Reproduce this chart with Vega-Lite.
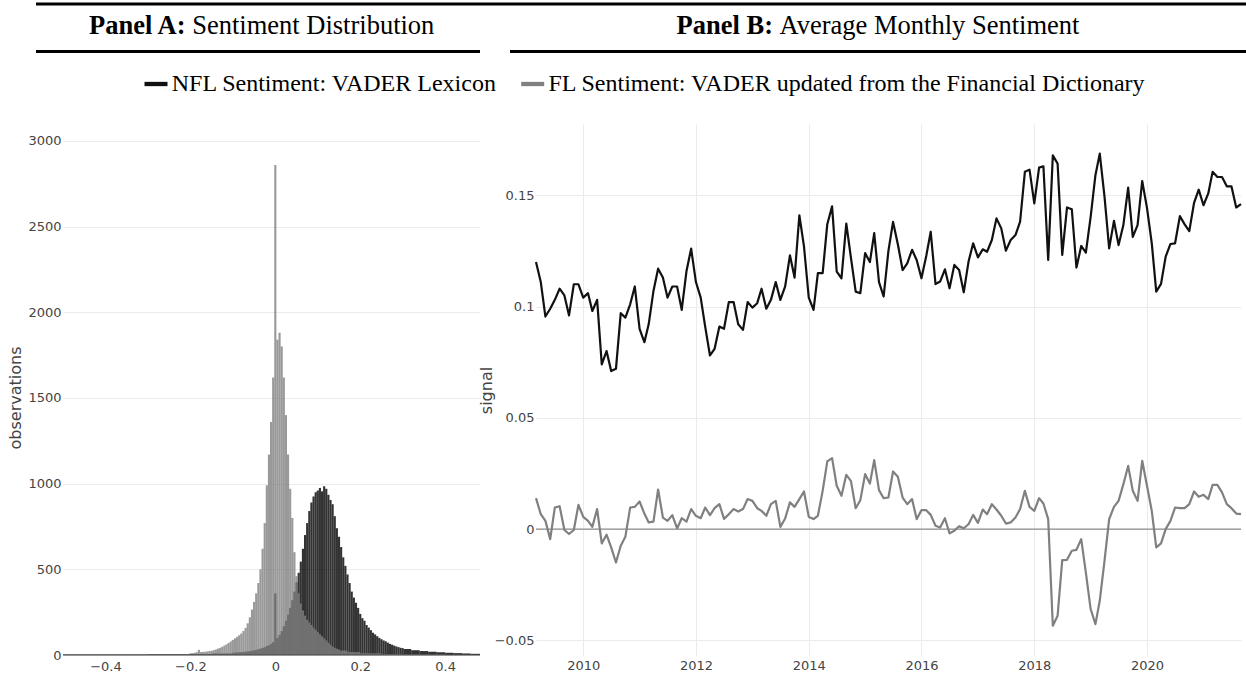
{
"$schema": "https://vega.github.io/schema/vega-lite/v6.json",
"background": "white",
"padding": {"left": 7, "top": 2, "right": 0, "bottom": 0},
"config": {
  "view": {"stroke": null},
  "axis": {"domain": false, "ticks": false, "labelFont": "DejaVu Sans", "labelFontSize": 13, "labelColor": "#444", "titleFont": "DejaVu Sans", "titleFontSize": 16, "titleFontWeight": "normal", "titleColor": "#444", "gridColor": "#ebebeb", "gridWidth": 1}
},
"datasets": {
"hist": [
{"series":"NFL","lo":-0.5,"hi":-0.3,"count":3},
{"series":"NFL","lo":-0.3,"hi":-0.2,"count":4},
{"series":"NFL","lo":-0.2,"hi":-0.15,"count":6},
{"series":"NFL","lo":-0.15,"hi":-0.1025,"count":9},
{"series":"NFL","lo":-0.1025,"hi":-0.0975,"count":13},
{"series":"NFL","lo":-0.0975,"hi":-0.0925,"count":14},
{"series":"NFL","lo":-0.0925,"hi":-0.0875,"count":15},
{"series":"NFL","lo":-0.0875,"hi":-0.0825,"count":16},
{"series":"NFL","lo":-0.0825,"hi":-0.0775,"count":17},
{"series":"NFL","lo":-0.0775,"hi":-0.0725,"count":18},
{"series":"NFL","lo":-0.0725,"hi":-0.0675,"count":20},
{"series":"NFL","lo":-0.0675,"hi":-0.0625,"count":21},
{"series":"NFL","lo":-0.0625,"hi":-0.0575,"count":23},
{"series":"NFL","lo":-0.0575,"hi":-0.0525,"count":25},
{"series":"NFL","lo":-0.0525,"hi":-0.0475,"count":27},
{"series":"NFL","lo":-0.0475,"hi":-0.0425,"count":30},
{"series":"NFL","lo":-0.0425,"hi":-0.0375,"count":33},
{"series":"NFL","lo":-0.0375,"hi":-0.0325,"count":37},
{"series":"NFL","lo":-0.0325,"hi":-0.0275,"count":41},
{"series":"NFL","lo":-0.0275,"hi":-0.0225,"count":46},
{"series":"NFL","lo":-0.0225,"hi":-0.0175,"count":52},
{"series":"NFL","lo":-0.0175,"hi":-0.0125,"count":58},
{"series":"NFL","lo":-0.0125,"hi":-0.0075,"count":65},
{"series":"NFL","lo":-0.0075,"hi":-0.0025,"count":75},
{"series":"NFL","lo":-0.0025,"hi":0.0025,"count":360},
{"series":"NFL","lo":0.0025,"hi":0.0075,"count":100},
{"series":"NFL","lo":0.0075,"hi":0.0125,"count":118},
{"series":"NFL","lo":0.0125,"hi":0.0175,"count":140},
{"series":"NFL","lo":0.0175,"hi":0.0225,"count":168},
{"series":"NFL","lo":0.0225,"hi":0.0275,"count":200},
{"series":"NFL","lo":0.0275,"hi":0.0325,"count":235},
{"series":"NFL","lo":0.0325,"hi":0.0375,"count":275},
{"series":"NFL","lo":0.0375,"hi":0.0425,"count":320},
{"series":"NFL","lo":0.0425,"hi":0.0475,"count":370},
{"series":"NFL","lo":0.0475,"hi":0.0525,"count":425},
{"series":"NFL","lo":0.0525,"hi":0.0575,"count":480},
{"series":"NFL","lo":0.0575,"hi":0.0625,"count":545},
{"series":"NFL","lo":0.0625,"hi":0.0675,"count":620},
{"series":"NFL","lo":0.0675,"hi":0.0725,"count":700},
{"series":"NFL","lo":0.0725,"hi":0.0775,"count":770},
{"series":"NFL","lo":0.0775,"hi":0.0825,"count":840},
{"series":"NFL","lo":0.0825,"hi":0.0875,"count":890},
{"series":"NFL","lo":0.0875,"hi":0.0925,"count":925},
{"series":"NFL","lo":0.0925,"hi":0.0975,"count":950},
{"series":"NFL","lo":0.0975,"hi":0.1025,"count":960},
{"series":"NFL","lo":0.1025,"hi":0.1075,"count":975},
{"series":"NFL","lo":0.1075,"hi":0.1125,"count":955},
{"series":"NFL","lo":0.1125,"hi":0.1175,"count":985},
{"series":"NFL","lo":0.1175,"hi":0.1225,"count":970},
{"series":"NFL","lo":0.1225,"hi":0.1275,"count":935},
{"series":"NFL","lo":0.1275,"hi":0.1325,"count":905},
{"series":"NFL","lo":0.1325,"hi":0.1375,"count":880},
{"series":"NFL","lo":0.1375,"hi":0.1425,"count":810},
{"series":"NFL","lo":0.1425,"hi":0.1475,"count":740},
{"series":"NFL","lo":0.1475,"hi":0.1525,"count":690},
{"series":"NFL","lo":0.1525,"hi":0.1575,"count":630},
{"series":"NFL","lo":0.1575,"hi":0.1625,"count":570},
{"series":"NFL","lo":0.1625,"hi":0.1675,"count":520},
{"series":"NFL","lo":0.1675,"hi":0.1725,"count":470},
{"series":"NFL","lo":0.1725,"hi":0.1775,"count":420},
{"series":"NFL","lo":0.1775,"hi":0.1825,"count":370},
{"series":"NFL","lo":0.1825,"hi":0.1875,"count":335},
{"series":"NFL","lo":0.1875,"hi":0.1925,"count":305},
{"series":"NFL","lo":0.1925,"hi":0.1975,"count":275},
{"series":"NFL","lo":0.1975,"hi":0.2025,"count":240},
{"series":"NFL","lo":0.2025,"hi":0.2075,"count":215},
{"series":"NFL","lo":0.2075,"hi":0.2125,"count":200},
{"series":"NFL","lo":0.2125,"hi":0.2175,"count":175},
{"series":"NFL","lo":0.2175,"hi":0.2225,"count":160},
{"series":"NFL","lo":0.2225,"hi":0.2275,"count":145},
{"series":"NFL","lo":0.2275,"hi":0.2325,"count":130},
{"series":"NFL","lo":0.2325,"hi":0.2375,"count":120},
{"series":"NFL","lo":0.2375,"hi":0.2425,"count":110},
{"series":"NFL","lo":0.2425,"hi":0.2475,"count":100},
{"series":"NFL","lo":0.2475,"hi":0.2525,"count":92},
{"series":"NFL","lo":0.2525,"hi":0.2575,"count":85},
{"series":"NFL","lo":0.2575,"hi":0.2625,"count":80},
{"series":"NFL","lo":0.2625,"hi":0.2675,"count":72},
{"series":"NFL","lo":0.2675,"hi":0.2725,"count":65},
{"series":"NFL","lo":0.2725,"hi":0.2775,"count":60},
{"series":"NFL","lo":0.2775,"hi":0.2825,"count":55},
{"series":"NFL","lo":0.2825,"hi":0.2875,"count":50},
{"series":"NFL","lo":0.2875,"hi":0.2925,"count":46},
{"series":"NFL","lo":0.2925,"hi":0.2975,"count":42},
{"series":"NFL","lo":0.2975,"hi":0.3025,"count":40},
{"series":"NFL","lo":0.3025,"hi":0.32,"count":35},
{"series":"NFL","lo":0.32,"hi":0.34,"count":28},
{"series":"NFL","lo":0.34,"hi":0.36,"count":23},
{"series":"NFL","lo":0.36,"hi":0.38,"count":19},
{"series":"NFL","lo":0.38,"hi":0.4,"count":16},
{"series":"NFL","lo":0.4,"hi":0.42,"count":13},
{"series":"NFL","lo":0.42,"hi":0.44,"count":11},
{"series":"NFL","lo":0.44,"hi":0.46,"count":9},
{"series":"NFL","lo":0.46,"hi":0.49,"count":7},
{"series":"FL","lo":-0.5,"hi":-0.3,"count":2},
{"series":"FL","lo":-0.3,"hi":-0.2025,"count":4},
{"series":"FL","lo":-0.2025,"hi":-0.1975,"count":10},
{"series":"FL","lo":-0.1975,"hi":-0.1925,"count":11},
{"series":"FL","lo":-0.1925,"hi":-0.1875,"count":13},
{"series":"FL","lo":-0.1875,"hi":-0.1825,"count":16},
{"series":"FL","lo":-0.1825,"hi":-0.1775,"count":30},
{"series":"FL","lo":-0.1775,"hi":-0.1725,"count":17},
{"series":"FL","lo":-0.1725,"hi":-0.1675,"count":18},
{"series":"FL","lo":-0.1675,"hi":-0.1625,"count":19},
{"series":"FL","lo":-0.1625,"hi":-0.1575,"count":21},
{"series":"FL","lo":-0.1575,"hi":-0.1525,"count":23},
{"series":"FL","lo":-0.1525,"hi":-0.1475,"count":25},
{"series":"FL","lo":-0.1475,"hi":-0.1425,"count":28},
{"series":"FL","lo":-0.1425,"hi":-0.1375,"count":32},
{"series":"FL","lo":-0.1375,"hi":-0.1325,"count":37},
{"series":"FL","lo":-0.1325,"hi":-0.1275,"count":42},
{"series":"FL","lo":-0.1275,"hi":-0.1225,"count":48},
{"series":"FL","lo":-0.1225,"hi":-0.1175,"count":55},
{"series":"FL","lo":-0.1175,"hi":-0.1125,"count":62},
{"series":"FL","lo":-0.1125,"hi":-0.1075,"count":70},
{"series":"FL","lo":-0.1075,"hi":-0.1025,"count":79},
{"series":"FL","lo":-0.1025,"hi":-0.0975,"count":88},
{"series":"FL","lo":-0.0975,"hi":-0.0925,"count":97},
{"series":"FL","lo":-0.0925,"hi":-0.0875,"count":106},
{"series":"FL","lo":-0.0875,"hi":-0.0825,"count":115},
{"series":"FL","lo":-0.0825,"hi":-0.0775,"count":126},
{"series":"FL","lo":-0.0775,"hi":-0.0725,"count":140},
{"series":"FL","lo":-0.0725,"hi":-0.0675,"count":158},
{"series":"FL","lo":-0.0675,"hi":-0.0625,"count":185},
{"series":"FL","lo":-0.0625,"hi":-0.0575,"count":220},
{"series":"FL","lo":-0.0575,"hi":-0.0525,"count":265},
{"series":"FL","lo":-0.0525,"hi":-0.0475,"count":310},
{"series":"FL","lo":-0.0475,"hi":-0.0425,"count":360},
{"series":"FL","lo":-0.0425,"hi":-0.0375,"count":420},
{"series":"FL","lo":-0.0375,"hi":-0.0325,"count":500},
{"series":"FL","lo":-0.0325,"hi":-0.0275,"count":620},
{"series":"FL","lo":-0.0275,"hi":-0.0225,"count":770},
{"series":"FL","lo":-0.0225,"hi":-0.0175,"count":990},
{"series":"FL","lo":-0.0175,"hi":-0.0125,"count":1170},
{"series":"FL","lo":-0.0125,"hi":-0.0075,"count":1360},
{"series":"FL","lo":-0.0075,"hi":-0.0025,"count":1620},
{"series":"FL","lo":-0.0025,"hi":0.0025,"count":2860},
{"series":"FL","lo":0.0025,"hi":0.0075,"count":1840},
{"series":"FL","lo":0.0075,"hi":0.0125,"count":1880},
{"series":"FL","lo":0.0125,"hi":0.0175,"count":1800},
{"series":"FL","lo":0.0175,"hi":0.0225,"count":1620},
{"series":"FL","lo":0.0225,"hi":0.0275,"count":1400},
{"series":"FL","lo":0.0275,"hi":0.0325,"count":1170},
{"series":"FL","lo":0.0325,"hi":0.0375,"count":970},
{"series":"FL","lo":0.0375,"hi":0.0425,"count":800},
{"series":"FL","lo":0.0425,"hi":0.0475,"count":600},
{"series":"FL","lo":0.0475,"hi":0.0525,"count":460},
{"series":"FL","lo":0.0525,"hi":0.0575,"count":360},
{"series":"FL","lo":0.0575,"hi":0.0625,"count":300},
{"series":"FL","lo":0.0625,"hi":0.0675,"count":260},
{"series":"FL","lo":0.0675,"hi":0.0725,"count":230},
{"series":"FL","lo":0.0725,"hi":0.0775,"count":205},
{"series":"FL","lo":0.0775,"hi":0.0825,"count":190},
{"series":"FL","lo":0.0825,"hi":0.0875,"count":175},
{"series":"FL","lo":0.0875,"hi":0.0925,"count":160},
{"series":"FL","lo":0.0925,"hi":0.0975,"count":148},
{"series":"FL","lo":0.0975,"hi":0.1025,"count":135},
{"series":"FL","lo":0.1025,"hi":0.1075,"count":122},
{"series":"FL","lo":0.1075,"hi":0.1125,"count":110},
{"series":"FL","lo":0.1125,"hi":0.1175,"count":97},
{"series":"FL","lo":0.1175,"hi":0.1225,"count":85},
{"series":"FL","lo":0.1225,"hi":0.1275,"count":72},
{"series":"FL","lo":0.1275,"hi":0.1325,"count":60},
{"series":"FL","lo":0.1325,"hi":0.1375,"count":50},
{"series":"FL","lo":0.1375,"hi":0.1425,"count":42},
{"series":"FL","lo":0.1425,"hi":0.1475,"count":37},
{"series":"FL","lo":0.1475,"hi":0.1525,"count":32},
{"series":"FL","lo":0.1525,"hi":0.17,"count":26},
{"series":"FL","lo":0.17,"hi":0.2,"count":17},
{"series":"FL","lo":0.2,"hi":0.25,"count":10},
{"series":"FL","lo":0.25,"hi":0.3,"count":6},
{"series":"FL","lo":0.3,"hi":0.4,"count":4},
{"series":"FL","lo":0.4,"hi":0.49,"count":2}
],
"signal": [
{"series":"NFL","month":"2009-03","value":0.120},{"series":"NFL","month":"2009-04","value":0.111},{"series":"NFL","month":"2009-05","value":0.0955},{"series":"NFL","month":"2009-06","value":0.099},{"series":"NFL","month":"2009-07","value":0.103},{"series":"NFL","month":"2009-08","value":0.108},{"series":"NFL","month":"2009-09","value":0.105},{"series":"NFL","month":"2009-10","value":0.096},{"series":"NFL","month":"2009-11","value":0.110},{"series":"NFL","month":"2009-12","value":0.110},
{"series":"NFL","month":"2010-01","value":0.104},{"series":"NFL","month":"2010-02","value":0.106},{"series":"NFL","month":"2010-03","value":0.098},{"series":"NFL","month":"2010-04","value":0.103},{"series":"NFL","month":"2010-05","value":0.074},{"series":"NFL","month":"2010-06","value":0.080},{"series":"NFL","month":"2010-07","value":0.071},{"series":"NFL","month":"2010-08","value":0.072},{"series":"NFL","month":"2010-09","value":0.097},{"series":"NFL","month":"2010-10","value":0.095},{"series":"NFL","month":"2010-11","value":0.101},{"series":"NFL","month":"2010-12","value":0.109},
{"series":"NFL","month":"2011-01","value":0.090},{"series":"NFL","month":"2011-02","value":0.084},{"series":"NFL","month":"2011-03","value":0.092},{"series":"NFL","month":"2011-04","value":0.107},{"series":"NFL","month":"2011-05","value":0.117},{"series":"NFL","month":"2011-06","value":0.113},{"series":"NFL","month":"2011-07","value":0.104},{"series":"NFL","month":"2011-08","value":0.109},{"series":"NFL","month":"2011-09","value":0.109},{"series":"NFL","month":"2011-10","value":0.0985},{"series":"NFL","month":"2011-11","value":0.116},{"series":"NFL","month":"2011-12","value":0.126},
{"series":"NFL","month":"2012-01","value":0.111},{"series":"NFL","month":"2012-02","value":0.104},{"series":"NFL","month":"2012-03","value":0.091},{"series":"NFL","month":"2012-04","value":0.078},{"series":"NFL","month":"2012-05","value":0.081},{"series":"NFL","month":"2012-06","value":0.091},{"series":"NFL","month":"2012-07","value":0.090},{"series":"NFL","month":"2012-08","value":0.102},{"series":"NFL","month":"2012-09","value":0.102},{"series":"NFL","month":"2012-10","value":0.092},{"series":"NFL","month":"2012-11","value":0.0895},{"series":"NFL","month":"2012-12","value":0.102},
{"series":"NFL","month":"2013-01","value":0.0995},{"series":"NFL","month":"2013-02","value":0.1015},{"series":"NFL","month":"2013-03","value":0.108},{"series":"NFL","month":"2013-04","value":0.099},{"series":"NFL","month":"2013-05","value":0.103},{"series":"NFL","month":"2013-06","value":0.111},{"series":"NFL","month":"2013-07","value":0.103},{"series":"NFL","month":"2013-08","value":0.109},{"series":"NFL","month":"2013-09","value":0.123},{"series":"NFL","month":"2013-10","value":0.113},{"series":"NFL","month":"2013-11","value":0.141},{"series":"NFL","month":"2013-12","value":0.127},
{"series":"NFL","month":"2014-01","value":0.104},{"series":"NFL","month":"2014-02","value":0.0985},{"series":"NFL","month":"2014-03","value":0.115},{"series":"NFL","month":"2014-04","value":0.115},{"series":"NFL","month":"2014-05","value":0.137},{"series":"NFL","month":"2014-06","value":0.145},{"series":"NFL","month":"2014-07","value":0.1157},{"series":"NFL","month":"2014-08","value":0.1127},{"series":"NFL","month":"2014-09","value":0.1373},{"series":"NFL","month":"2014-10","value":0.122},{"series":"NFL","month":"2014-11","value":0.1067},{"series":"NFL","month":"2014-12","value":0.106},
{"series":"NFL","month":"2015-01","value":0.124},{"series":"NFL","month":"2015-02","value":0.120},{"series":"NFL","month":"2015-03","value":0.133},{"series":"NFL","month":"2015-04","value":0.111},{"series":"NFL","month":"2015-05","value":0.1045},{"series":"NFL","month":"2015-06","value":0.125},{"series":"NFL","month":"2015-07","value":0.138},{"series":"NFL","month":"2015-08","value":0.128},{"series":"NFL","month":"2015-09","value":0.1164},{"series":"NFL","month":"2015-10","value":0.1194},{"series":"NFL","month":"2015-11","value":0.1255},{"series":"NFL","month":"2015-12","value":0.1209},
{"series":"NFL","month":"2016-01","value":0.1127},{"series":"NFL","month":"2016-02","value":0.1227},{"series":"NFL","month":"2016-03","value":0.1336},{"series":"NFL","month":"2016-04","value":0.1101},{"series":"NFL","month":"2016-05","value":0.1112},{"series":"NFL","month":"2016-06","value":0.1167},{"series":"NFL","month":"2016-07","value":0.1082},{"series":"NFL","month":"2016-08","value":0.1187},{"series":"NFL","month":"2016-09","value":0.1164},{"series":"NFL","month":"2016-10","value":0.1064},{"series":"NFL","month":"2016-11","value":0.1202},{"series":"NFL","month":"2016-12","value":0.1284},
{"series":"NFL","month":"2017-01","value":0.1221},{"series":"NFL","month":"2017-02","value":0.1257},{"series":"NFL","month":"2017-03","value":0.1246},{"series":"NFL","month":"2017-04","value":0.1299},{"series":"NFL","month":"2017-05","value":0.1396},{"series":"NFL","month":"2017-06","value":0.1351},{"series":"NFL","month":"2017-07","value":0.1251},{"series":"NFL","month":"2017-08","value":0.1299},{"series":"NFL","month":"2017-09","value":0.1321},{"series":"NFL","month":"2017-10","value":0.1381},{"series":"NFL","month":"2017-11","value":0.1605},{"series":"NFL","month":"2017-12","value":0.1615},
{"series":"NFL","month":"2018-01","value":0.1463},{"series":"NFL","month":"2018-02","value":0.1624},{"series":"NFL","month":"2018-03","value":0.163},{"series":"NFL","month":"2018-04","value":0.1209},{"series":"NFL","month":"2018-05","value":0.1679},{"series":"NFL","month":"2018-06","value":0.1642},{"series":"NFL","month":"2018-07","value":0.1232},{"series":"NFL","month":"2018-08","value":0.1445},{"series":"NFL","month":"2018-09","value":0.1437},{"series":"NFL","month":"2018-10","value":0.1175},{"series":"NFL","month":"2018-11","value":0.1272},{"series":"NFL","month":"2018-12","value":0.1242},
{"series":"NFL","month":"2019-01","value":0.1403},{"series":"NFL","month":"2019-02","value":0.159},{"series":"NFL","month":"2019-03","value":0.1687},{"series":"NFL","month":"2019-04","value":0.1493},{"series":"NFL","month":"2019-05","value":0.1261},{"series":"NFL","month":"2019-06","value":0.1385},{"series":"NFL","month":"2019-07","value":0.1276},{"series":"NFL","month":"2019-08","value":0.1366},{"series":"NFL","month":"2019-09","value":0.1534},{"series":"NFL","month":"2019-10","value":0.1313},{"series":"NFL","month":"2019-11","value":0.1366},{"series":"NFL","month":"2019-12","value":0.1564},
{"series":"NFL","month":"2020-01","value":0.1443},{"series":"NFL","month":"2020-02","value":0.1284},{"series":"NFL","month":"2020-03","value":0.1067},{"series":"NFL","month":"2020-04","value":0.1102},{"series":"NFL","month":"2020-05","value":0.1224},{"series":"NFL","month":"2020-06","value":0.1281},{"series":"NFL","month":"2020-07","value":0.1284},{"series":"NFL","month":"2020-08","value":0.1406},{"series":"NFL","month":"2020-09","value":0.1369},{"series":"NFL","month":"2020-10","value":0.1339},{"series":"NFL","month":"2020-11","value":0.1466},{"series":"NFL","month":"2020-12","value":0.1525},
{"series":"NFL","month":"2021-01","value":0.1455},{"series":"NFL","month":"2021-02","value":0.1508},{"series":"NFL","month":"2021-03","value":0.1605},{"series":"NFL","month":"2021-04","value":0.1582},{"series":"NFL","month":"2021-05","value":0.1582},{"series":"NFL","month":"2021-06","value":0.154},{"series":"NFL","month":"2021-07","value":0.154},{"series":"NFL","month":"2021-08","value":0.1445},{"series":"NFL","month":"2021-09","value":0.146},
{"series":"FL","month":"2009-03","value":0.0139},{"series":"FL","month":"2009-04","value":0.0067},{"series":"FL","month":"2009-05","value":0.0037},{"series":"FL","month":"2009-06","value":-0.0045},{"series":"FL","month":"2009-07","value":0.0097},{"series":"FL","month":"2009-08","value":0.0103},{"series":"FL","month":"2009-09","value":-0.0004},{"series":"FL","month":"2009-10","value":-0.0022},{"series":"FL","month":"2009-11","value":-0.0004},{"series":"FL","month":"2009-12","value":0.0109},
{"series":"FL","month":"2010-01","value":0.0055},{"series":"FL","month":"2010-02","value":0.0037},{"series":"FL","month":"2010-03","value":0.0010},{"series":"FL","month":"2010-04","value":0.0090},{"series":"FL","month":"2010-05","value":-0.0064},{"series":"FL","month":"2010-06","value":-0.0025},{"series":"FL","month":"2010-07","value":-0.0082},{"series":"FL","month":"2010-08","value":-0.0150},{"series":"FL","month":"2010-09","value":-0.0075},{"series":"FL","month":"2010-10","value":-0.0034},{"series":"FL","month":"2010-11","value":0.0097},{"series":"FL","month":"2010-12","value":0.0100},
{"series":"FL","month":"2011-01","value":0.0124},{"series":"FL","month":"2011-02","value":0.0070},{"series":"FL","month":"2011-03","value":0.0030},{"series":"FL","month":"2011-04","value":0.0034},{"series":"FL","month":"2011-05","value":0.0178},{"series":"FL","month":"2011-06","value":0.0052},{"series":"FL","month":"2011-07","value":0.0037},{"series":"FL","month":"2011-08","value":0.0063},{"series":"FL","month":"2011-09","value":0.0003},{"series":"FL","month":"2011-10","value":0.0049},{"series":"FL","month":"2011-11","value":0.0034},{"series":"FL","month":"2011-12","value":0.0090},
{"series":"FL","month":"2012-01","value":0.0060},{"series":"FL","month":"2012-02","value":0.0049},{"series":"FL","month":"2012-03","value":0.0097},{"series":"FL","month":"2012-04","value":0.0063},{"series":"FL","month":"2012-05","value":0.0094},{"series":"FL","month":"2012-06","value":0.0112},{"series":"FL","month":"2012-07","value":0.0046},{"series":"FL","month":"2012-08","value":0.0067},{"series":"FL","month":"2012-09","value":0.0090},{"series":"FL","month":"2012-10","value":0.0079},{"series":"FL","month":"2012-11","value":0.0090},{"series":"FL","month":"2012-12","value":0.0135},
{"series":"FL","month":"2013-01","value":0.0127},{"series":"FL","month":"2013-02","value":0.0094},{"series":"FL","month":"2013-03","value":0.0082},{"series":"FL","month":"2013-04","value":0.0060},{"series":"FL","month":"2013-05","value":0.0112},{"series":"FL","month":"2013-06","value":0.0127},{"series":"FL","month":"2013-07","value":0.0010},{"series":"FL","month":"2013-08","value":0.0048},{"series":"FL","month":"2013-09","value":0.0120},{"series":"FL","month":"2013-10","value":0.0100},{"series":"FL","month":"2013-11","value":0.0135},{"series":"FL","month":"2013-12","value":0.0169},
{"series":"FL","month":"2014-01","value":0.0055},{"series":"FL","month":"2014-02","value":0.0045},{"series":"FL","month":"2014-03","value":0.0060},{"series":"FL","month":"2014-04","value":0.0172},{"series":"FL","month":"2014-05","value":0.0304},{"series":"FL","month":"2014-06","value":0.0319},{"series":"FL","month":"2014-07","value":0.0195},{"series":"FL","month":"2014-08","value":0.0150},{"series":"FL","month":"2014-09","value":0.0244},{"series":"FL","month":"2014-10","value":0.0217},{"series":"FL","month":"2014-11","value":0.0094},{"series":"FL","month":"2014-12","value":0.0130},
{"series":"FL","month":"2015-01","value":0.0247},{"series":"FL","month":"2015-02","value":0.0205},{"series":"FL","month":"2015-03","value":0.0310},{"series":"FL","month":"2015-04","value":0.0175},{"series":"FL","month":"2015-05","value":0.0139},{"series":"FL","month":"2015-06","value":0.0142},{"series":"FL","month":"2015-07","value":0.0259},{"series":"FL","month":"2015-08","value":0.0235},{"series":"FL","month":"2015-09","value":0.0142},{"series":"FL","month":"2015-10","value":0.0112},{"series":"FL","month":"2015-11","value":0.0135},{"series":"FL","month":"2015-12","value":0.0045},
{"series":"FL","month":"2016-01","value":0.0085},{"series":"FL","month":"2016-02","value":0.0085},{"series":"FL","month":"2016-03","value":0.0064},{"series":"FL","month":"2016-04","value":0.0015},{"series":"FL","month":"2016-05","value":0.0007},{"series":"FL","month":"2016-06","value":0.0049},{"series":"FL","month":"2016-07","value":-0.0019},{"series":"FL","month":"2016-08","value":-0.0007},{"series":"FL","month":"2016-09","value":0.0013},{"series":"FL","month":"2016-10","value":0.0004},{"series":"FL","month":"2016-11","value":0.0022},{"series":"FL","month":"2016-12","value":0.0064},
{"series":"FL","month":"2017-01","value":0.0028},{"series":"FL","month":"2017-02","value":0.0088},{"series":"FL","month":"2017-03","value":0.0067},{"series":"FL","month":"2017-04","value":0.0112},{"series":"FL","month":"2017-05","value":0.0088},{"series":"FL","month":"2017-06","value":0.0060},{"series":"FL","month":"2017-07","value":0.0025},{"series":"FL","month":"2017-08","value":0.0030},{"series":"FL","month":"2017-09","value":0.0052},{"series":"FL","month":"2017-10","value":0.0090},{"series":"FL","month":"2017-11","value":0.0172},{"series":"FL","month":"2017-12","value":0.0100},
{"series":"FL","month":"2018-01","value":0.0082},{"series":"FL","month":"2018-02","value":0.0139},{"series":"FL","month":"2018-03","value":0.0115},{"series":"FL","month":"2018-04","value":0.0045},{"series":"FL","month":"2018-05","value":-0.0434},{"series":"FL","month":"2018-06","value":-0.0389},{"series":"FL","month":"2018-07","value":-0.0139},{"series":"FL","month":"2018-08","value":-0.0138},{"series":"FL","month":"2018-09","value":-0.0097},{"series":"FL","month":"2018-10","value":-0.0093},{"series":"FL","month":"2018-11","value":-0.0045},{"series":"FL","month":"2018-12","value":-0.0195},
{"series":"FL","month":"2019-01","value":-0.0359},{"series":"FL","month":"2019-02","value":-0.0427},{"series":"FL","month":"2019-03","value":-0.0322},{"series":"FL","month":"2019-04","value":-0.0142},{"series":"FL","month":"2019-05","value":0.0045},{"series":"FL","month":"2019-06","value":0.0100},{"series":"FL","month":"2019-07","value":0.0127},{"series":"FL","month":"2019-08","value":0.0202},{"series":"FL","month":"2019-09","value":0.0284},{"series":"FL","month":"2019-10","value":0.0172},{"series":"FL","month":"2019-11","value":0.0127},{"series":"FL","month":"2019-12","value":0.0307},
{"series":"FL","month":"2020-01","value":0.0195},{"series":"FL","month":"2020-02","value":0.0082},{"series":"FL","month":"2020-03","value":-0.0082},{"series":"FL","month":"2020-04","value":-0.0064},{"series":"FL","month":"2020-05","value":0.0000},{"series":"FL","month":"2020-06","value":0.0037},{"series":"FL","month":"2020-07","value":0.0097},{"series":"FL","month":"2020-08","value":0.0094},{"series":"FL","month":"2020-09","value":0.0094},{"series":"FL","month":"2020-10","value":0.0112},{"series":"FL","month":"2020-11","value":0.0169},{"series":"FL","month":"2020-12","value":0.0145},
{"series":"FL","month":"2021-01","value":0.0154},{"series":"FL","month":"2021-02","value":0.0135},{"series":"FL","month":"2021-03","value":0.0199},{"series":"FL","month":"2021-04","value":0.0199},{"series":"FL","month":"2021-05","value":0.0165},{"series":"FL","month":"2021-06","value":0.0112},{"series":"FL","month":"2021-07","value":0.0094},{"series":"FL","month":"2021-08","value":0.0070},{"series":"FL","month":"2021-09","value":0.0067}
]
},
"spacing": 17,
"vconcat": [
{
  "bounds": "flush",
  "spacing": 30,
  "hconcat": [
    {
      "width": 417, "height": 47.5,
      "data": {"values": [{"panel": "Panel A:", "title": "Sentiment Distribution"}]},
      "layer": [
        {"mark": {"type": "rule", "color": "black", "strokeWidth": 2.8},
         "encoding": {"x": {"datum": 0, "type": "quantitative", "scale": {"domain": [0, 1], "range": [-27, 447]}, "axis": null}, "x2": {"datum": 1},
                      "y": {"datum": 1, "type": "quantitative", "scale": {"domain": [0, 1]}, "axis": null}}},
        {"mark": {"type": "rule", "color": "black", "strokeWidth": 2.8, "strokeDash": [444, 200]},
         "encoding": {"x": {"datum": 0, "type": "quantitative"}, "x2": {"datum": 1},
                      "y": {"datum": 0, "type": "quantitative"}}},
        {"mark": {"type": "text", "font": "Liberation Serif", "fontSize": 26.5, "fontWeight": "bold", "align": "right", "baseline": "alphabetic", "dx": -86, "dy": 6.5, "color": "black"},
         "encoding": {"text": {"field": "panel"}}},
        {"mark": {"type": "text", "font": "Liberation Serif", "fontSize": 26.5, "align": "left", "baseline": "alphabetic", "dx": -79.3, "dy": 6.5, "color": "black"},
         "encoding": {"text": {"field": "title"}}}
      ]
    },
    {
      "width": 736, "height": 47.5,
      "data": {"values": [{"panel": "Panel B:", "title": "Average Monthly Sentiment"}]},
      "layer": [
        {"mark": {"type": "rule", "color": "black", "strokeWidth": 2.8},
         "encoding": {"y": {"datum": 1, "type": "quantitative", "scale": {"domain": [0, 1]}, "axis": null}}},
        {"mark": {"type": "rule", "color": "black", "strokeWidth": 2.8},
         "encoding": {"y": {"datum": 0, "type": "quantitative"}}},
        {"mark": {"type": "text", "font": "Liberation Serif", "fontSize": 26.5, "fontWeight": "bold", "align": "right", "baseline": "alphabetic", "dx": -105, "dy": 6.5, "color": "black"},
         "encoding": {"text": {"field": "panel"}}},
        {"mark": {"type": "text", "font": "Liberation Serif", "fontSize": 26.5, "align": "left", "baseline": "alphabetic", "dx": -98.4, "dy": 6.5, "color": "black"},
         "encoding": {"text": {"field": "title"}}}
      ]
    }
  ]
},
{
  "bounds": "flush",
  "spacing": 56,
  "resolve": {"scale": {"color": "independent"}, "legend": {"color": "independent"}},
  "hconcat": [
    {
      "width": 417, "height": 531,
      "layer": [
        {"data": {"name": "hist"},
         "mark": {"type": "bar", "opacity": 0.8, "clip": true},
         "encoding": {
           "x": {"field": "lo", "type": "quantitative", "scale": {"domain": [-0.5, 0.482], "nice": false, "zero": false},
                 "axis": {"values": [-0.4, -0.2, 0, 0.2, 0.4], "format": "~g", "grid": false, "labelPadding": 5, "title": null}},
           "x2": {"field": "hi"},
           "y": {"field": "count", "type": "quantitative", "stack": null, "scale": {"domain": [0, 3099], "nice": false},
                 "axis": {"values": [0, 500, 1000, 1500, 2000, 2500, 3000], "format": "d", "grid": true, "labelPadding": 2, "title": "observations", "titleX": -43, "titleY": 273.5, "titleBaseline": "alphabetic"}},
           "y2": {"datum": 0},
           "color": {"field": "series", "type": "nominal", "scale": {"domain": ["NFL", "FL"], "range": ["#000000", "#808080"]}, "legend": null}
         }},
        {"data": {"values": [{}]},
         "mark": {"type": "rule", "color": "#444", "strokeWidth": 1},
         "encoding": {"y": {"datum": 0, "type": "quantitative", "title": null}}}
      ]
    },
    {
      "width": 705, "height": 532,
      "layer": [
        {"data": {"values": [{}]},
         "mark": {"type": "rule", "color": "#8c8c8c", "strokeWidth": 1.4},
         "encoding": {"y": {"datum": 0, "type": "quantitative", "title": null}}},
        {"data": {"name": "signal"},
         "mark": {"type": "line", "strokeWidth": 2.2, "strokeJoin": "round"},
         "encoding": {
           "x": {"field": "month", "type": "temporal",
                 "scale": {"domain": [{"year": 2009, "month": 3, "date": 1}, {"year": 2021, "month": 9, "date": 1}], "nice": false},
                 "axis": {"values": [{"year": 2010, "month": 1, "date": 1}, {"year": 2012, "month": 1, "date": 1}, {"year": 2014, "month": 1, "date": 1}, {"year": 2016, "month": 1, "date": 1}, {"year": 2018, "month": 1, "date": 1}, {"year": 2020, "month": 1, "date": 1}], "format": "%Y", "grid": true, "labelPadding": 3, "title": null}},
           "y": {"field": "value", "type": "quantitative", "scale": {"domain": [-0.057, 0.182], "nice": false, "zero": false},
                 "axis": {"values": [-0.05, 0, 0.05, 0.1, 0.15], "format": ".2~f", "grid": true, "labelPadding": 2, "title": "signal", "titleX": -45, "titleBaseline": "alphabetic"}},
           "color": {"field": "series", "type": "nominal", "scale": {"domain": ["NFL", "FL"], "range": ["#111111", "#808080"]},
                     "legend": {"orient": "none", "legendX": -394, "legendY": -54, "direction": "horizontal", "title": null,
                                "symbolType": "stroke", "symbolStrokeWidth": 4.3, "symbolSize": 529,
                                "labelFont": "Liberation Serif", "labelFontSize": 24, "labelColor": "black", "labelOffset": 1.7, "columnPadding": 13.7, "labelLimit": 2000,
                                "labelExpr": "datum.label == 'NFL' ? 'NFL Sentiment: VADER Lexicon' : 'FL Sentiment: VADER updated from the Financial Dictionary'"}}
         }}
      ]
    }
  ]
}
]
}
